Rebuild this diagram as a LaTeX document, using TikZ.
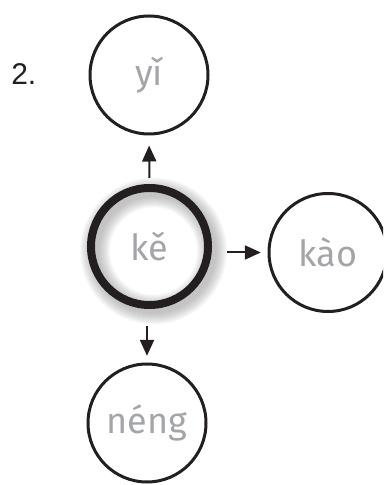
\documentclass[tikz,border=0pt]{standalone}
\usepackage{fontspec}
\setmainfont{Fira Sans}
\newfontfamily\numfont{Liberation Sans}
\usepackage{xcolor}
\usetikzlibrary{positioning, arrows.meta}

\definecolor{inkblack}{HTML}{231F20}
\definecolor{pinyingray}{HTML}{A3A5A8}

\begin{document}
\begin{tikzpicture}[
  x=0.75pt, y=0.75pt,
  word/.style={circle, draw=inkblack, line width=2.25pt, inner sep=0pt, minimum size=88.5pt,
    text=pinyingray, font=\fontsize{27}{32}\selectfont},
  focus/.style={word, line width=6pt, minimum size=87.75pt},
  arrow/.style={-{Triangle[length=12pt, width=10.5pt]}, line width=1.5pt, draw=inkblack},
]
  \clip (0,0) rectangle (383,485);

  % Number
  \node[anchor=base west, inner sep=0pt, font=\numfont\fontsize{22.5}{27}\selectfont, text=inkblack] (num) at (11,400) {2.};

  % Shadow of the centre word
  \foreach \i in {1,...,12}
    \draw[gray, opacity=0.05, line width=4.5pt+\i*1.5pt] (153.5,234) circle (58.5);

  % Words
  \node[focus] (ke) at (149.5,238.5) {kě};
  \node[word] (yi) at (149,410) {yǐ};
  \node[word] (kao) at (328,232.5) {kào};
  \node[word] (neng) at (147,62) {néng};

  % Arrows
  \draw[arrow, shorten <=4.5pt, shorten >=7.5pt] (ke.north) -- (yi.south);
  \draw[arrow, shorten <=11pt, shorten >=5pt] (ke.east |- kao.west) -- (kao.west);
  \draw[arrow, shorten <=12.5pt, shorten >=5pt] (neng.north |- ke.south) -- (neng.north);
\end{tikzpicture}
\end{document}
